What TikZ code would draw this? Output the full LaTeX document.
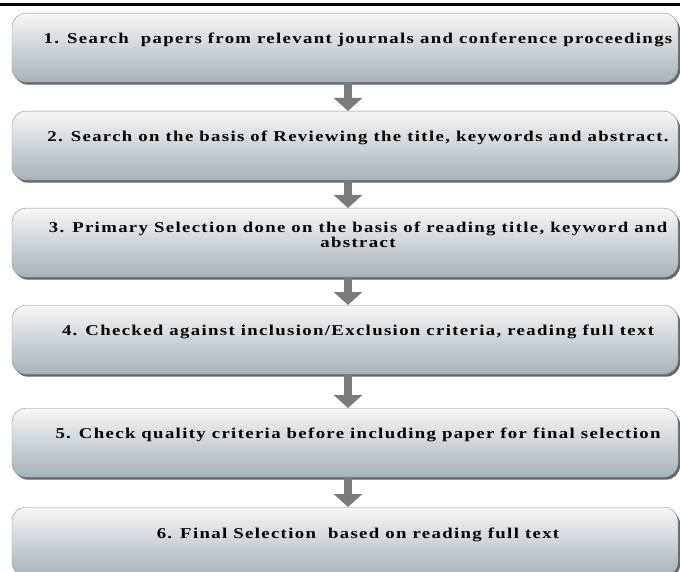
\documentclass[tikz,border=0pt]{standalone}
\usepackage{fontspec}
\newfontfamily\stepfont[FakeStretch=1.25,LetterSpace=9]{Liberation Serif}
\usetikzlibrary{arrows.meta,shadows}
\definecolor{boxtop}{HTML}{F6F7F8}
\definecolor{boxbottom}{HTML}{A6B2BA}
\definecolor{boxline}{HTML}{8A8F93}
\definecolor{arrowgray}{HTML}{7B7B7B}

\tikzset{
  stepbox/.style={draw=boxline, rounded corners=14pt, minimum width=666pt,
    minimum height=69pt, anchor=north, top color=boxtop, bottom color=boxbottom,
    drop shadow={shadow xshift=2pt, shadow yshift=-2.5pt, opacity=0.7, fill=black!85}},
  steptext/.style={font=\stepfont\bfseries\fontsize{15}{15}\selectfont, align=center, inner sep=0pt},
  flow/.style={line width=8pt, draw=arrowgray, -{Triangle[width=28pt,length=13pt]}}
}

\begin{document}
\begin{tikzpicture}[x=1pt,y=-1pt]
  \useasboundingbox (0,0) rectangle (680,572);
  \draw[line width=3pt] (0,5) -- (680,5);   % rule at the top of the page
  \coordinate (ax) at (348,0);              % x of the arrows
  % the six steps
  \node[stepbox] (b1) at (345,13) {};
  \node[stepbox] (b2) at (345,111) {};
  \node[stepbox] (b3) at (345,208) {};
  \node[stepbox] (b4) at (345,305) {};
  \node[stepbox] (b5) at (345,408) {};
  \node[stepbox] (b6) at (345,507) {};
  \node[steptext] (t1) at ([xshift=13pt,yshift=-27pt]b1.north) {1. Search~ papers from relevant journals and conference proceedings};
  \node[steptext] (t2) at ([xshift=13pt,yshift=-27pt]b2.north) {2. Search on the basis of Reviewing the title, keywords and abstract.};
  \node[steptext] (t3) at ([xshift=13pt,yshift=-27pt]b3.north) {3. Primary Selection done on the basis of reading title, keyword and\\abstract};
  \node[steptext] (t4) at ([xshift=13pt,yshift=-27pt]b4.north) {4. Checked against inclusion/Exclusion criteria, reading full text};
  \node[steptext] (t5) at ([xshift=13pt,yshift=-27pt]b5.north) {5. Check quality criteria before including paper for final selection};
  \node[steptext] (t6) at ([xshift=13pt,yshift=-28pt]b6.north) {6. Final Selection~ based on reading full text};
  % arrows between the steps
  \foreach \a/\b in {b1/b2,b2/b3,b3/b4,b4/b5,b5/b6} {
    \draw[flow] (\a.south -| ax) -- (\b.north -| ax);
  }
\end{tikzpicture}
\end{document}
